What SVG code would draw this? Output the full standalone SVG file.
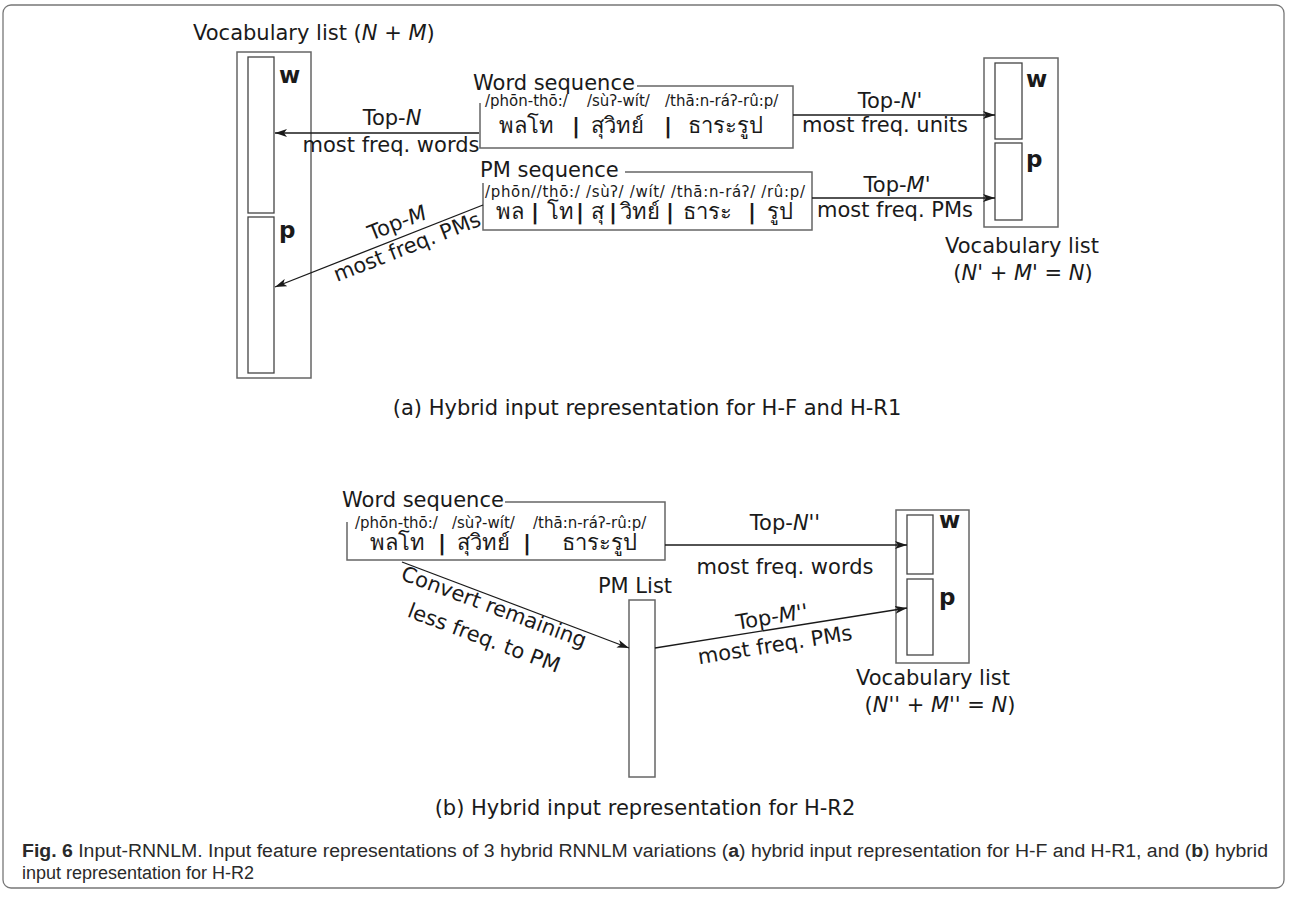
<svg xmlns="http://www.w3.org/2000/svg" width="1291" height="900" viewBox="0 0 1291 900">
<defs>
<marker id="ah" viewBox="0 0 12 8" refX="12" refY="4" markerWidth="12" markerHeight="8" markerUnits="userSpaceOnUse" orient="auto">
<path d="M0,0 L12,4 L0,8 L3,4 Z" fill="#1a1a1a"/>
</marker>
</defs>
<style>
.t{font-family:"DejaVu Sans","Noto Sans",sans-serif;font-size:21px;fill:#1a1a1a}
.ph{font-family:"DejaVu Sans","Noto Sans",sans-serif;font-size:15px;fill:#1a1a1a}
.th{font-family:"DejaVu Sans","Noto Sans",sans-serif;font-size:22px;fill:#1a1a1a}
.bar{font-family:"DejaVu Sans",sans-serif;font-size:22px;font-weight:bold;fill:#1a1a1a}
.b{font-family:"DejaVu Sans",sans-serif;font-size:23px;font-weight:bold;fill:#1a1a1a}
.box{fill:none;stroke:#666;stroke-width:1.5}
.ibox{fill:#fff;stroke:#444;stroke-width:1.3}
.c{text-anchor:middle}
.arr{fill:none;stroke:#1a1a1a;stroke-width:1.3;marker-end:url(#ah)}
.cap{font-family:"Liberation Sans",Arial,sans-serif;font-size:18px;fill:#2a2a2a}
</style>
<rect x="3" y="5" width="1281" height="883" rx="8" fill="#fff" stroke="#777" stroke-width="1.3"/>

<!-- (a) left vocabulary list -->
<g id="vocab-left">
<text class="t" x="193" y="40">Vocabulary list (<tspan font-style="italic">N</tspan> + <tspan font-style="italic">M</tspan>)</text>
<rect class="box" x="237" y="52" width="74" height="326"/>
<rect class="ibox" x="248" y="57" width="26" height="156"/>
<rect class="ibox" x="248" y="217" width="26" height="156"/>
<text class="b" x="279" y="83">w</text>
<text class="b" x="279" y="238">p</text>
</g>

<!-- (a) word sequence -->
<g id="word-seq-a">
<text class="t" x="473" y="90">Word sequence</text>
<path class="box" d="M637,86 H793 V148 H480 V103"/>
<text class="ph" x="485" y="106">/phōn-thō:/</text>
<text class="ph" x="587" y="106">/sùʔ-wít/</text>
<text class="ph" x="665" y="106">/thā:n-ráʔ-rû:p/</text>
<text class="th" x="526" y="133" text-anchor="middle">พลโท</text>
<text class="bar" x="576" y="133" text-anchor="middle">|</text>
<text class="th" x="617" y="133" text-anchor="middle">สุวิทย์</text>
<text class="bar" x="668" y="133" text-anchor="middle">|</text>
<text class="th" x="725" y="133" text-anchor="middle">ธาระรูป</text>
</g>

<!-- (a) PM sequence -->
<g id="pm-seq-a">
<text class="t" x="480" y="177">PM sequence</text>
<path class="box" d="M625,172 H812 V230 H483 V183"/>
<text class="ph" x="485" y="197" textLength="320" lengthAdjust="spacing">/phōn//thō:/ /sùʔ/ /wít/ /thā:n-ráʔ/ /rû:p/</text>
<text class="th" x="510" y="219" text-anchor="middle">พล</text>
<text class="bar" x="535" y="219" text-anchor="middle">|</text>
<text class="th" x="560" y="219" text-anchor="middle">โท</text>
<text class="bar" x="580" y="219" text-anchor="middle">|</text>
<text class="th" x="597" y="219" text-anchor="middle">สุ</text>
<text class="bar" x="613" y="219" text-anchor="middle">|</text>
<text class="th" x="640" y="219" text-anchor="middle">วิทย์</text>
<text class="bar" x="670" y="219" text-anchor="middle">|</text>
<text class="th" x="707" y="219" text-anchor="middle">ธาระ</text>
<text class="bar" x="752" y="219" text-anchor="middle">|</text>
<text class="th" x="780" y="219" text-anchor="middle">รูป</text>
</g>

<!-- (a) right vocabulary list -->
<g id="vocab-right-a">
<rect class="box" x="984" y="58" width="74" height="169"/>
<rect class="ibox" x="995" y="63" width="27" height="76"/>
<rect class="ibox" x="995" y="143" width="27" height="77"/>
<text class="b" x="1026" y="87">w</text>
<text class="b" x="1026" y="167">p</text>
<text class="t c" x="1022" y="253">Vocabulary list</text>
<text class="t c" x="1023" y="280">(<tspan font-style="italic">N</tspan>' + <tspan font-style="italic">M</tspan>' = <tspan font-style="italic">N</tspan>)</text>
</g>

<text id="caption-a" class="t c" x="647" y="415">(a) Hybrid input representation for H-F and H-R1</text>

<!-- (b) word sequence -->
<g id="word-seq-b">
<text class="t" x="342" y="507">Word sequence</text>
<path class="box" d="M505,502 H665 V560 H347 V522"/>
<text class="ph" x="355" y="528">/phōn-thō:/</text>
<text class="ph" x="452" y="528">/sùʔ-wít/</text>
<text class="ph" x="533" y="528">/thā:n-ráʔ-rû:p/</text>
<text class="th" x="397" y="550" text-anchor="middle">พลโท</text>
<text class="bar" x="442" y="550" text-anchor="middle">|</text>
<text class="th" x="483" y="550" text-anchor="middle">สุวิทย์</text>
<text class="bar" x="527" y="550" text-anchor="middle">|</text>
<text class="th" x="599" y="550" text-anchor="middle">ธาระรูป</text>
</g>

<!-- (b) PM list -->
<g id="pm-list">
<text class="t c" x="635" y="593">PM List</text>
<rect class="box" x="629" y="600" width="26" height="177"/>
</g>

<!-- (b) right vocabulary list -->
<g id="vocab-right-b">
<rect class="box" x="896" y="510" width="73" height="153"/>
<rect class="ibox" x="907" y="515" width="26" height="59"/>
<rect class="ibox" x="907" y="579" width="26" height="76"/>
<text class="b" x="939" y="528">w</text>
<text class="b" x="939" y="605">p</text>
<text class="t c" x="933" y="685">Vocabulary list</text>
<text class="t c" x="940" y="712">(<tspan font-style="italic">N</tspan>'' + <tspan font-style="italic">M</tspan>'' = <tspan font-style="italic">N</tspan>)</text>
</g>

<text id="caption-b" class="t c" x="645" y="815">(b) Hybrid input representation for H-R2</text>

<!-- connectors -->
<g id="connectors">
<line class="arr" x1="479" y1="133" x2="275" y2="133"/>
<line class="arr" x1="793" y1="115" x2="995" y2="115"/>
<line class="arr" x1="812" y1="198" x2="995" y2="198"/>
<line class="arr" x1="483" y1="205" x2="275" y2="287"/>
<line class="arr" x1="665" y1="545" x2="907" y2="545"/>
<line class="arr" x1="402" y1="562" x2="629" y2="648"/>
<line class="arr" x1="655" y1="648" x2="907" y2="608"/>
</g>

<g id="connector-labels">
<text class="t c" x="392" y="125">Top-<tspan font-style="italic">N</tspan></text>
<text class="t c" x="391" y="152">most freq. words</text>
<text class="t c" x="890" y="108">Top-<tspan font-style="italic">N</tspan>'</text>
<text class="t c" x="885" y="132">most freq. units</text>
<text class="t c" x="897" y="192">Top-<tspan font-style="italic">M</tspan>'</text>
<text class="t c" x="895" y="217">most freq. PMs</text>
<text class="t c" transform="translate(397,223) rotate(-21.5)" y="7">Top-<tspan font-style="italic">M</tspan></text>
<text class="t c" transform="translate(407,247) rotate(-21.5)" y="7">most freq. PMs</text>
<text class="t c" x="785" y="530">Top-<tspan font-style="italic">N</tspan>''</text>
<text class="t c" x="785" y="574">most freq. words</text>
<text class="t c" transform="translate(494,607) rotate(20.5)" y="7">Convert remaining</text>
<text class="t c" transform="translate(484,638) rotate(20.5)" y="7">less freq. to PM</text>
<text class="t c" transform="translate(772,617) rotate(-9.1)" y="7">Top-<tspan font-style="italic">M</tspan>''</text>
<text class="t c" transform="translate(775,645) rotate(-9.1)" y="7">most freq. PMs</text>
</g>

<g id="figure-caption">
<text class="cap" x="22" y="857" textLength="1246" lengthAdjust="spacingAndGlyphs"><tspan font-weight="bold">Fig. 6</tspan> Input-RNNLM. Input feature representations of 3 hybrid RNNLM variations (<tspan font-weight="bold">a</tspan>) hybrid input representation for H-F and H-R1, and (<tspan font-weight="bold">b</tspan>) hybrid</text>
<text class="cap" x="22" y="879">input representation for H-R2</text>
</g>
</svg>
